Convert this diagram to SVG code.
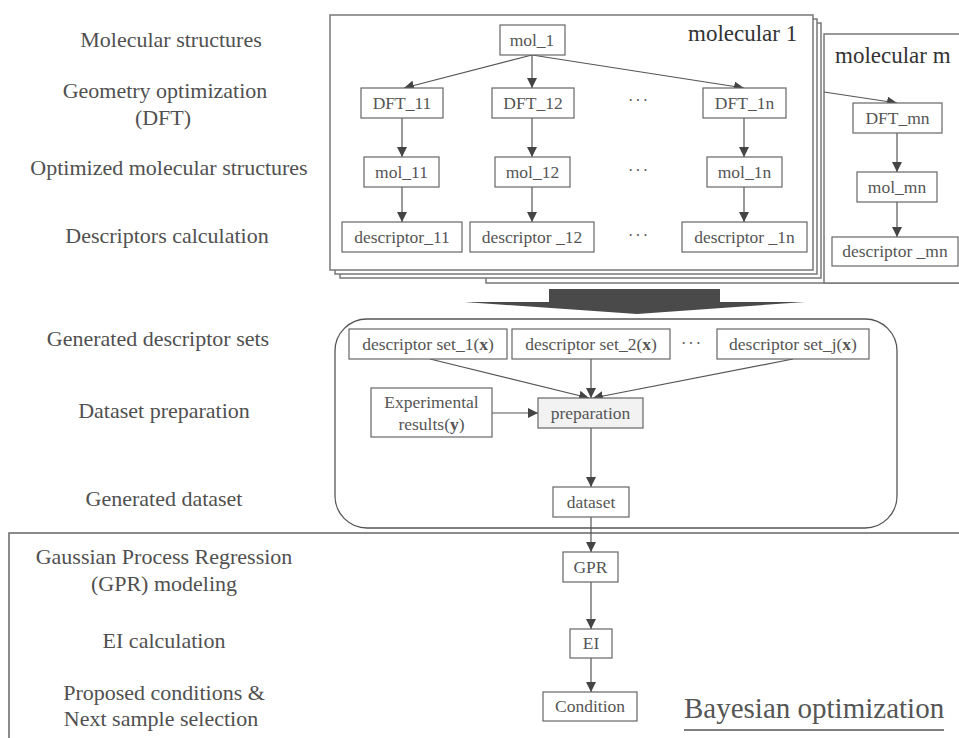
<svg xmlns="http://www.w3.org/2000/svg" width="959" height="738" viewBox="0 0 959 738">
<defs>
<marker id="ah" markerUnits="userSpaceOnUse" markerWidth="10" markerHeight="10" refX="10" refY="5" orient="auto">
<path d="M0,0 L10,5 L0,10 z" fill="#444"/>
</marker>
</defs>
<style>
.lbl{font-family:"Liberation Serif","Times New Roman",serif;font-size:22px;fill:#505050;text-anchor:middle}
.nt{font-family:"Liberation Serif","Times New Roman",serif;font-size:17.5px;fill:#555;text-anchor:middle}
.box{fill:#fff;stroke:#666;stroke-width:1.2}
.frame{fill:#fff;stroke:#777;stroke-width:1.5}
.con{fill:none;stroke:#555;stroke-width:1.2;marker-end:url(#ah)}
.dots{font-family:"Liberation Serif",serif;font-size:16px;fill:#555;text-anchor:middle;letter-spacing:2px}
.title{font-family:"Liberation Serif","Times New Roman",serif;font-size:23px;fill:#333}
</style>
<rect width="959" height="738" fill="#fff"/>

<g id="row-labels">
<text class="lbl" x="171" y="47">Molecular structures</text>
<text class="lbl" x="165" y="98">Geometry optimization</text>
<text class="lbl" x="163" y="125">(DFT)</text>
<text class="lbl" x="169" y="175">Optimized molecular structures</text>
<text class="lbl" x="167" y="243">Descriptors calculation</text>
<text class="lbl" x="158" y="346">Generated descriptor sets</text>
<text class="lbl" x="164" y="418">Dataset preparation</text>
<text class="lbl" x="164" y="506">Generated dataset</text>
<text class="lbl" x="164" y="564">Gaussian Process Regression</text>
<text class="lbl" x="164" y="591">(GPR) modeling</text>
<text class="lbl" x="164" y="648">EI calculation</text>
<text class="lbl" x="164" y="700">Proposed conditions &amp;</text>
<text class="lbl" x="161" y="726">Next sample selection</text>
</g>

<g id="bayesian-frame">
<path d="M9,738 V533 H959" fill="none" stroke="#666" stroke-width="1.5"/>
<text x="684" y="718" font-family="Liberation Serif, Times New Roman, serif" font-size="29" fill="#555">Bayesian optimization</text>
<line x1="684" y1="730" x2="944" y2="730" stroke="#555" stroke-width="1.5"/>
</g>

<g id="molecular-m">
<path d="M486,278 V283 H965" fill="none" stroke="#777" stroke-width="1.5"/>
<rect class="frame" x="824" y="34" width="150" height="249"/>
<text class="title" x="835" y="63">molecular m</text>
</g>
<g id="frame-stack">
<rect class="frame" x="340" y="23" width="481" height="255"/>
<rect class="frame" x="335" y="19" width="482" height="255"/>
</g>
<g id="molecular-1">
<rect class="frame" x="330" y="15" width="483" height="255"/>
<text class="title" x="688" y="41">molecular 1</text>
</g>

<g id="connectors">
<line class="con" x1="532" y1="55" x2="404" y2="88"/>
<line class="con" x1="532" y1="55" x2="532" y2="88"/>
<line class="con" x1="532" y1="55" x2="744" y2="88"/>
<line class="con" x1="402" y1="118" x2="402" y2="157"/>
<line class="con" x1="532" y1="118" x2="532" y2="157"/>
<line class="con" x1="744" y1="118" x2="744" y2="157"/>
<line class="con" x1="402" y1="187" x2="402" y2="222"/>
<line class="con" x1="532" y1="187" x2="532" y2="222"/>
<line class="con" x1="744" y1="187" x2="744" y2="222"/>
<line class="con" x1="824" y1="92" x2="897" y2="103"/>
<line class="con" x1="897" y1="133" x2="897" y2="172"/>
<line class="con" x1="897" y1="202" x2="897" y2="237"/>
<line class="con" x1="430" y1="359" x2="589" y2="398"/>
<line class="con" x1="591" y1="359" x2="591" y2="398"/>
<line class="con" x1="793" y1="359" x2="593" y2="398"/>
<line class="con" x1="492" y1="413" x2="538" y2="413"/>
<line class="con" x1="591" y1="428" x2="591" y2="487"/>
<line class="con" x1="591" y1="517" x2="591" y2="552"/>
<line class="con" x1="591" y1="582" x2="591" y2="629"/>
<line class="con" x1="591" y1="658" x2="591" y2="692"/>
</g>

<g id="mol_1"><rect class="box" x="500" y="25" width="65" height="30"/><text class="nt" x="532" y="46">mol_1</text></g>
<g id="DFT_11"><rect class="box" x="361" y="88" width="82" height="30"/><text class="nt" x="402" y="109">DFT_11</text></g>
<g id="DFT_12"><rect class="box" x="492" y="88" width="82" height="30"/><text class="nt" x="533" y="109">DFT_12</text></g>
<g id="DFT_1n"><rect class="box" x="703" y="88" width="83" height="30"/><text class="nt" x="744.5" y="109">DFT_1n</text></g>
<g id="mol_11"><rect class="box" x="364" y="157" width="75" height="30"/><text class="nt" x="401.5" y="178">mol_11</text></g>
<g id="mol_12"><rect class="box" x="495" y="157" width="75" height="30"/><text class="nt" x="532.5" y="178">mol_12</text></g>
<g id="mol_1n"><rect class="box" x="707" y="157" width="75" height="30"/><text class="nt" x="744.5" y="178">mol_1n</text></g>
<g id="descriptor_11"><rect class="box" x="342" y="222" width="120" height="30"/><text class="nt" x="402" y="243">descriptor_11</text></g>
<g id="descriptor_12"><rect class="box" x="470" y="222" width="124" height="30"/><text class="nt" x="532" y="243">descriptor _12</text></g>
<g id="descriptor_1n"><rect class="box" x="682" y="222" width="125" height="30"/><text class="nt" x="744.5" y="243">descriptor _1n</text></g>
<g id="dots-top">
<text class="dots" x="639" y="106">···</text>
<text class="dots" x="639" y="176">···</text>
<text class="dots" x="639" y="241">···</text>
</g>
<g id="DFT_mn"><rect class="box" x="853" y="103" width="89" height="30"/><text class="nt" x="897.5" y="124">DFT_mn</text></g>
<g id="mol_mn"><rect class="box" x="857" y="172" width="80" height="30"/><text class="nt" x="897" y="193">mol_mn</text></g>
<g id="descriptor_mn"><rect class="box" x="832" y="237" width="126" height="29"/><text class="nt" x="895" y="257">descriptor _mn</text></g>

<g id="big-arrow">
<polygon points="549,289 720,289 720,302 805,302 637,314 464,302 549,302" fill="#4a4a4a"/>
</g>

<g id="dataset-frame">
<rect x="335" y="319" width="562" height="209" rx="32" ry="32" fill="none" stroke="#555" stroke-width="1.3"/>
</g>
<g id="set_1"><rect class="box" x="349" y="329" width="158" height="30"/><text class="nt" x="428" y="350">descriptor set_1(<tspan font-weight="bold">x</tspan>)</text></g>
<g id="set_2"><rect class="box" x="512" y="329" width="158" height="30"/><text class="nt" x="591" y="350">descriptor set_2(<tspan font-weight="bold">x</tspan>)</text></g>
<text class="dots" x="692" y="349">···</text>
<g id="set_j"><rect class="box" x="717" y="329" width="152" height="30"/><text class="nt" x="793" y="350">descriptor set_j(<tspan font-weight="bold">x</tspan>)</text></g>
<g id="experimental"><rect class="box" x="371" y="388" width="121" height="49"/><text class="nt" x="431.5" y="408">Experimental</text><text class="nt" x="431.5" y="430">results(<tspan font-weight="bold">y</tspan>)</text></g>
<g id="preparation"><rect x="538" y="398" width="105" height="30" fill="#f2f2f2" stroke="#666" stroke-width="1.2"/><text class="nt" x="590.5" y="419">preparation</text></g>
<g id="dataset"><rect class="box" x="553" y="487" width="76" height="30"/><text class="nt" x="591" y="508">dataset</text></g>
<g id="GPR"><rect class="box" x="563" y="552" width="55" height="30"/><text class="nt" x="590.5" y="573">GPR</text></g>
<g id="EI"><rect class="box" x="570" y="629" width="42" height="29"/><text class="nt" x="591" y="649">EI</text></g>
<g id="Condition"><rect class="box" x="543" y="692" width="94" height="29"/><text class="nt" x="590" y="712">Condition</text></g>
</svg>
